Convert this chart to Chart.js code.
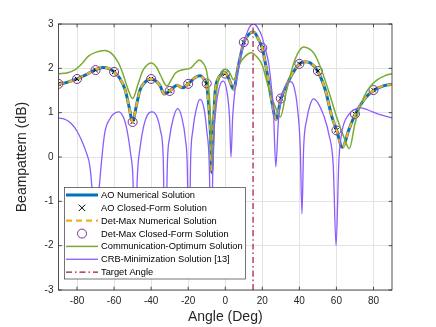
<!DOCTYPE html>
<html>
<head>
<meta charset="utf-8">
<script src="https://cdn.jsdelivr.net/npm/chart.js@4.4.1/dist/chart.umd.min.js"></script>
<style>
  html, body { margin: 0; padding: 0; background: #fff; }
</style>
</head>
<body>
<canvas id="grafico" width="436" height="327"></canvas>
<script>
const blue = '#0072BD';
const yellow = '#EDB120';
const green = '#77AC30';
const violet = '#8C5CFF';
const plum = '#7E2F8E';
const wine = '#A2142F';
const ink = '#262626';
const gridColor = '#e3e3e3';

// eixos
const xTicks = [-80, -60, -40, -20, 0, 20, 40, 60, 80];
const yTicks = [-3, -2, -1, 0, 1, 2, 3];

// marcadores das soluções fechadas (a cada 10 graus)
const markerAngle = [-90, -80, -70, -60, -50, -40, -30, -20, -10, 0, 10, 20, 30, 40, 50, 60, 70, 80];
const aoClosedForm = [1.65, 1.76, 1.96, 1.92, 0.79, 1.76, 1.49, 1.65, 1.66, 1.88, 2.59, 2.46, 1.32, 2.10, 1.94, 0.60, 0.97, 1.51];
const detMaxClosedForm = [1.65, 1.76, 1.96, 1.92, 0.79, 1.76, 1.49, 1.65, 1.66, 1.88, 2.59, 2.46, 1.32, 2.10, 1.94, 0.60, 0.97, 1.51];

// AO numérica (Det-Max numérica fica por cima, mesma curva)
const aoAngle = [-90, -85, -80, -75, -70, -66, -63, -60, -57, -54, -52, -50, -48, -46, -43, -40, -37, -35, -33, -30,
  -26, -23, -20, -16, -13.5, -11, -10, -9, -8, -7.3, -6.5, -5.5, -4, -2, 0, 2, 4.5, 7, 10, 13,
  15.3, 18, 20, 22.3, 25, 27.4, 30, 34, 37.6, 40, 43, 46, 50, 54, 57.6, 60, 63.3, 66.6, 70, 75, 80, 85, 90];
const aoGain = [1.64, 1.69, 1.76, 1.86, 1.97, 2.02, 2.00, 1.92, 1.78, 1.51, 1.15, 0.79, 1.15, 1.51, 1.70, 1.76, 1.70, 1.59, 1.42, 1.49,
  1.62, 1.56, 1.65, 1.80, 1.83, 1.72, 1.63, 1.20, 0.55, -0.35, 0.55, 1.45, 1.75, 1.87, 1.90, 1.76, 1.53, 2.04, 2.58, 2.78,
  2.82, 2.65, 2.45, 1.97, 1.28, 0.85, 1.30, 1.70, 1.97, 2.10, 2.15, 2.12, 1.93, 1.51, 0.90, 0.62, 0.22, 0.60, 0.95, 1.30, 1.50, 1.60, 1.64];
const detMaxAngle = aoAngle;
const detMaxGain = aoGain;

// ótimo de comunicação
const commAngle = [-90, -85, -81, -77, -74, -70, -65, -61, -57.6, -55, -53, -50, -47, -45, -43, -40, -37, -35, -31.5, -29,
  -27, -23, -19, -16, -14, -12, -10, -9, -8, -7, -6, -4.5, -3, -1, 0, 2.5, 4.5, 8, 11, 14,
  17, 20, 23, 27, 29.7, 33, 37, 40, 42.5, 46, 48, 50.5, 55, 60, 64, 67, 70, 75, 78, 82, 86, 90];
const commGain = [1.88, 1.90, 1.97, 2.12, 2.27, 2.36, 2.40, 2.32, 2.12, 1.85, 1.59, 1.32, 1.65, 1.90, 2.04, 2.12, 2.02, 1.85, 1.60, 1.75,
  1.89, 1.97, 2.00, 2.12, 2.19, 2.12, 1.93, 1.60, 0.90, -0.25, 0.80, 1.55, 1.80, 1.95, 1.98, 1.89, 1.74, 2.12, 2.28, 2.35,
  2.26, 2.07, 1.62, 1.13, 0.90, 1.48, 2.12, 2.40, 2.48, 2.42, 2.33, 2.12, 1.59, 0.92, 0.45, 0.19, 0.75, 1.37, 1.58, 1.74, 1.83, 1.88];

// minimização do CRB
const crbAngle = [-90, -86, -83, -80, -77.5, -75, -73, -71.5, -70, -68.5, -67, -65, -62, -60, -57.5, -55, -53, -51, -49.8, -48.7,
  -47.5, -46, -44, -42, -39.6, -37, -35, -33.5, -32.4, -31.2, -30, -28, -25.7, -23.5, -21.5, -20.5, -19.6, -18.7, -17.5, -15.5,
  -13.6, -11.5, -10, -8.6, -7.6, -6.6, -5, -3, -1, 1, 2.3, 3.1, 4, 5.5, 7.2, 9, 10.8, 13, 15.3, 17.5,
  19.8, 21.5, 23.4, 25, 26, 27.3, 28.7, 30.5, 33, 35, 37, 39, 40.5, 41.4, 42.3, 44, 46, 47.7, 50, 53,
  56, 58.3, 59.8, 61.3, 62.5, 64, 66.5, 69.3, 73, 77, 82, 86, 90];
const crbGain = [0.88, 0.84, 0.75, 0.58, 0.37, 0.10, -0.23, -1.0, -2.5, -1.0, -0.2, 0.55, 0.88, 0.98, 1.02, 0.90, 0.60, 0.05, -0.5, -2.5,
  -0.5, 0.2, 0.70, 0.95, 1.02, 0.92, 0.60, 0.0, -2.5, -0.1, 0.45, 0.88, 1.09, 0.90, 0.40, -0.2, -2.5, -0.1, 0.6, 1.1,
  1.30, 1.1, 0.6, -0.2, -2.5, 0.0, 1.1, 1.6, 1.71, 1.45, 0.9, 0.0, 0.9, 1.6, 2.04, 2.42, 2.69, 2.92, 3.01, 2.92,
  2.72, 2.45, 2.12, 1.55, 1.06, -0.22, 0.83, 1.35, 1.62, 1.70, 1.60, 1.1, 0.2, -1.28, 0.2, 0.85, 1.2, 1.31, 1.22, 0.95,
  0.5, -0.2, -2.0, -0.1, 0.45, 0.75, 0.95, 1.06, 1.11, 1.06, 0.98, 0.93, 0.88];

// ângulo alvo
const targetAngle = [15, 15];
const targetLevel = [-3, 3];

function pontos(xs, ys) {
  return xs.map((x, i) => ({ x: x, y: ys[i] }));
}

// caixa do eixo, ticks para dentro e legenda estilo MATLAB
const moldura = {
  id: 'moldura',
  afterDraw(chart) {
    const { ctx, chartArea: a, scales: { x, y } } = chart;
    ctx.save();
    ctx.strokeStyle = ink;
    ctx.lineWidth = 0.8;
    ctx.strokeRect(a.left, a.top, a.right - a.left, a.bottom - a.top);
    ctx.beginPath();
    xTicks.forEach(t => {
      const px = x.getPixelForValue(t);
      ctx.moveTo(px, a.bottom); ctx.lineTo(px, a.bottom - 3.3);
      ctx.moveTo(px, a.top); ctx.lineTo(px, a.top + 3.3);
    });
    yTicks.forEach(t => {
      const py = y.getPixelForValue(t);
      ctx.moveTo(a.left, py); ctx.lineTo(a.left + 3.3, py);
      ctx.moveTo(a.right, py); ctx.lineTo(a.right - 3.3, py);
    });
    ctx.stroke();

    // legenda
    const bx = 64.5, by = 187.5, bw = 181, bh = 91.5;
    ctx.fillStyle = '#fff';
    ctx.fillRect(bx, by, bw, bh);
    ctx.strokeStyle = '#3a3a3a';
    ctx.lineWidth = 0.7;
    ctx.strokeRect(bx, by, bw, bh);
    ctx.font = "9.3px 'Liberation Sans', Arial, sans-serif";
    ctx.textBaseline = 'middle';
    chart.data.datasets.forEach((ds, i) => {
      const ly = 195 + i * 12.85;
      ctx.save();
      if (ds.showLine === false) {
        ctx.strokeStyle = ds.borderColor;
        ctx.lineWidth = ds.borderWidth;
        ctx.beginPath();
        if (ds.pointStyle === 'crossRot') {
          const r = 3.2;
          ctx.moveTo(82 - r, ly - r); ctx.lineTo(82 + r, ly + r);
          ctx.moveTo(82 - r, ly + r); ctx.lineTo(82 + r, ly - r);
        } else {
          ctx.arc(82, ly, 4.5, 0, Math.PI * 2);
        }
        ctx.stroke();
      } else {
        ctx.strokeStyle = ds.borderColor;
        ctx.lineWidth = ds.borderWidth;
        ctx.setLineDash(ds.borderDash || []);
        ctx.beginPath();
        ctx.moveTo(66, ly); ctx.lineTo(98, ly);
        ctx.stroke();
      }
      ctx.restore();
      ctx.fillStyle = '#000';
      ctx.fillText(ds.label, 101, ly + 0.5);
    });
    ctx.restore();
  }
};

Chart.defaults.font.family = "'Liberation Sans', Arial, sans-serif";

const ctx1 = document.getElementById('grafico');

new Chart(ctx1, {
  type: 'line',
  data: {
    datasets: [{
      label: 'AO Numerical Solution',
      data: pontos(aoAngle, aoGain),
      borderColor: blue,
      borderWidth: 3,
      pointRadius: 0,
      order: 7
    }, {
      label: 'AO Closed-Form Solution',
      data: pontos(markerAngle, aoClosedForm),
      showLine: false,
      pointStyle: 'crossRot',
      pointRadius: 3.2,
      borderColor: '#000',
      borderWidth: 1,
      order: 6
    }, {
      label: 'Det-Max Numerical Solution',
      data: pontos(detMaxAngle, detMaxGain),
      borderColor: yellow,
      borderWidth: 2.2,
      borderDash: [6, 4],
      pointRadius: 0,
      order: 5
    }, {
      label: 'Det-Max Closed-Form Solution',
      data: pontos(markerAngle, detMaxClosedForm),
      showLine: false,
      pointStyle: 'circle',
      pointRadius: 4.5,
      borderColor: plum,
      backgroundColor: 'rgba(0,0,0,0)',
      borderWidth: 1,
      order: 4
    }, {
      label: 'Communication-Optimum Solution',
      data: pontos(commAngle, commGain),
      borderColor: green,
      borderWidth: 1.5,
      pointRadius: 0,
      order: 3
    }, {
      label: 'CRB-Minimization Solution [13]',
      data: pontos(crbAngle, crbGain),
      borderColor: violet,
      borderWidth: 1.3,
      pointRadius: 0,
      order: 2
    }, {
      label: 'Target Angle',
      data: pontos(targetAngle, targetLevel),
      borderColor: wine,
      borderWidth: 1.2,
      borderDash: [6, 3, 1.5, 3],
      pointRadius: 0,
      order: 1
    }]
  },
  options: {
    responsive: false,
    animation: false,
    layout: { padding: { top: 24, right: 44, left: 0, bottom: 0 } },
    elements: { line: { cubicInterpolationMode: 'monotone', fill: false } },
    plugins: {
      legend: { display: false },
      tooltip: { enabled: false }
    },
    scales: {
      x: {
        type: 'linear',
        min: -90,
        max: 90,
        afterBuildTicks: s => { s.ticks = xTicks.map(v => ({ value: v })); },
        afterFit: s => { s.height = 37; },
        grid: { color: gridColor, drawTicks: false },
        border: { display: false },
        ticks: { color: ink, font: { size: 10 }, padding: 5, callback: v => v },
        title: { display: true, text: 'Angle (Deg)', color: ink, font: { size: 14 }, padding: { top: 0, bottom: 1 } }
      },
      y: {
        min: -3,
        max: 3,
        afterBuildTicks: s => { s.ticks = yTicks.map(v => ({ value: v })); },
        afterFit: s => { s.width = 58.5; },
        grid: { color: gridColor, drawTicks: false },
        border: { display: false },
        ticks: { color: ink, font: { size: 10 }, padding: 5, callback: v => v },
        title: { display: true, text: 'Beampattern (dB)', color: ink, font: { size: 14 }, padding: { top: 14, bottom: 0 } }
      }
    }
  },
  plugins: [moldura]
});
</script>
</body>
</html>
